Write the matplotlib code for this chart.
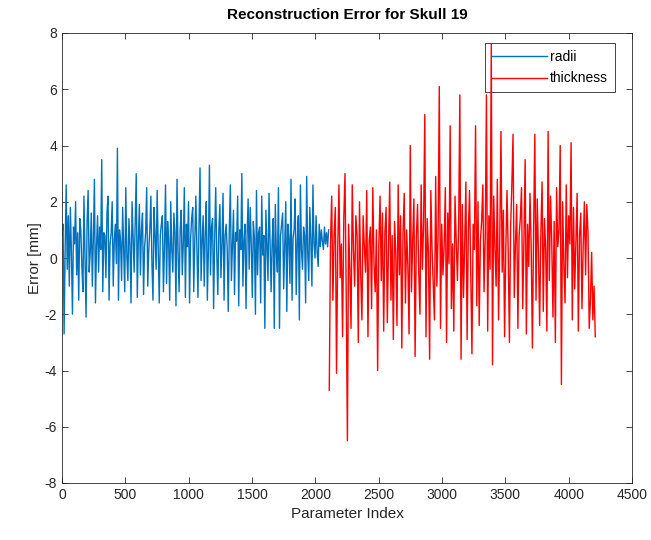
import matplotlib.pyplot as plt
import numpy as np

plt.rcParams['font.family'] = ['Liberation Sans', 'DejaVu Sans']
plt.rcParams['axes.unicode_minus'] = False

# radii error, index 0 .. ~2105
radii = [
    0.8, 1.2, -2.7, 0.3, 2.6, -0.4, 1.5, -1.0, 1.8, 0.2, -2.0, 1.1, 0.5, 2.0, -0.6, 0.9,
    -1.5, 1.4, 1.0, -0.3, -1.2, 2.2, 0.1, -2.1, 1.3, 2.4, -0.5, 0.2, 1.6, -1.0, 0.7, 2.8,
    -1.6, 0.4, 1.5, -0.5, 1.1, 0.3, 3.5, -1.2, 0.9, 0.8, -0.7, 1.6, 2.2, -1.5, 0.5, 0.9,
    2.0, -1.0, 0.6, 1.2, -0.2, 3.9, -1.5, 1.0, 0.6, -0.8, 1.8, 0.3, -1.2, 2.5, 0.1, -0.8,
    1.4, 0.5, -1.6, 2.0, 0.7, -0.5, 1.2, 3.0, -1.4, 0.6, 1.9, -0.6, 1.0, 1.6, -1.3, 0.4,
    0.9, 2.5, -1.0, 0.3, 1.0, 2.2, -0.2, -1.5, 1.8, 0.8, -0.4, 2.4, 0.5, -1.6, 0.8, 1.2,
    1.5, -1.2, 0.4, 2.6, -0.9, 1.3, 0.6, -1.5, 2.0, 0.3, -0.5, 1.6, 0.9, -1.7, 2.8, 0.2,
    -1.2, 1.0, 1.7, -0.6, 0.5, 2.5, -1.4, 1.2, 0.4, 2.0, -1.6, 0.7, 1.4, 1.8, -1.2, 0.6,
    2.2, 0.4, -1.4, 1.1, 3.2, -0.8, 0.6, 1.5, -1.0, 0.9, 2.0, -1.5, 0.3, 3.3, -0.6, 1.1,
    1.4, -1.8, 0.7, 2.5, 0.2, -1.3, 1.0, 1.9, -0.7, 0.5, 2.3, -1.5, 0.8, 1.2, 0.3, -1.9,
    1.0, 2.6, -0.8, 0.4, 1.7, -1.3, 0.9, 0.6, 2.2, -1.7, 1.0, 0.3, 3.0, -1.0, 0.6, 1.2,
    -1.8, 0.8, 2.1, -0.4, 1.8, 0.5, -1.4, 1.3, 0.7, -2.0, 2.4, -0.6, 0.9, 1.1, -1.6, 2.2,
    0.1, 0.8, -2.5, 1.7, 0.4, -0.8, 2.3, 0.6, -1.2, 0.6, 1.4, -2.5, 1.9, 0.2, -0.5, 2.5,
    -2.5, 0.8, 1.2, 1.6, -1.1, 0.5, 2.0, -1.9, 1.2, 0.7, -0.9, 2.8, -1.5, 0.7, 1.0, 2.1,
    -1.3, 0.6, 1.5, -2.2, 2.6, 0.3, -0.4, 1.1, 0.8, -1.6, 2.9, 0.2, -0.8, 1.8, 0.6, -1.0,
    2.6, 0.5, 0.0, 1.5, 0.2, -0.3, 1.2, 0.4, 1.0, 0.6, 0.3, 1.1, 0.5, 0.9, 0.4, 1.0,
]
radii_start, radii_end = 0, 2105

# thickness error, index ~2110 .. 4210
thickness = [
    -4.7, 0.5, 2.2, -1.5, 0.8, 1.8, -4.1, 0.3, 2.6, -0.7, 0.5, -2.8, 1.4, 3.0, -1.2, -6.5,
    1.2, -0.4, -2.5, 2.6, 0.3, -1.0, 1.5, 0.8, -3.0, 2.0, -0.6, -2.2, 1.5, 0.4, -0.5, 2.4,
    -2.8, 0.6, 1.1, -1.8, 2.5, -0.2, -1.2, 1.0, -4.0, 0.5, 2.2, -0.8, 1.6, -2.6, 0.9, 1.8,
    -2.3, 0.4, 2.7, -1.5, 0.8, -2.9, 1.3, 0.2, -2.4, 2.6, -0.6, 1.5, -3.2, 0.9, 2.3, -1.6,
    1.0, -0.3, -2.7, 4.0, -1.2, 0.6, 2.1, -3.5, 0.7, 1.9, -0.5, -2.0, 2.6, -0.4, 1.2, 5.1,
    -2.8, 1.4, 0.2, -3.6, 2.4, 0.3, -1.0, -2.2, 2.9, -1.0, 0.8, 6.1, -2.5, 1.2, -0.6, 0.4,
    2.5, -3.0, 1.6, -0.2, 4.7, -1.8, 0.5, -2.6, 2.2, 0.6, -0.8, 1.1, 5.8, -3.6, 1.9, -1.4,
    0.5, 2.7, -2.9, 0.9, 2.4, -0.5, -3.4, 1.2, 0.3, 4.7, -1.7, 2.0, -2.4, 0.6, 1.3, 2.6,
    -1.2, 0.7, 5.8, -2.6, 1.5, -0.4, 7.6, -3.8, 2.2, 0.4, -1.0, 2.8, -2.2, 0.6, 4.5, -0.5,
    1.7, -2.8, 0.3, 2.4, 0.2, -3.0, 1.1, 2.6, 4.4, -1.4, 0.5, 1.9, -2.5, 0.8, 1.4, 2.5,
    -1.8, 0.6, 3.5, -2.7, 1.2, -0.3, 2.3, 0.4, -3.2, 1.0, 4.4, -1.5, 2.1, 0.2, -2.4, 0.9,
    2.7, -1.9, 1.4, 0.3, -2.6, 4.5, -0.8, 2.2, 0.6, -2.1, 1.3, -3.0, 2.5, 0.4, 1.0, 4.0,
    -4.5, 2.0, -0.2, -1.6, 2.6, -0.7, 1.5, 0.5, 4.1, -2.2, 1.8, -1.1, 0.6, 2.3, -2.6, 0.8,
    1.6, -1.8, 0.4, 2.0, -0.6, 1.9, 0.9, -2.5, -1.5, 0.2, -2.2, -1.0, -2.8,
]
thick_start, thick_end = 2110, 4210

x_ticks = list(range(0, 4501, 500))
y_ticks = list(range(-8, 9, 2))

# parameter index of each sample
x_radii = np.linspace(radii_start, radii_end, len(radii))
x_thick = np.linspace(thick_start, thick_end, len(thickness))

fig = plt.figure(figsize=(6.51, 5.4), dpi=100)
ax = fig.add_axes([62 / 651, 57 / 540, 570 / 651, 450 / 540])

ax.plot(x_radii, radii, color='#0072BD', lw=1.0, label='radii')
# red trace sits above the legend box, like the original (tall peak runs through it)
ax.plot(x_thick, thickness, color='#FF0000', lw=1.0, label='thickness', zorder=6)

ax.set_xlim(0, 4500)
ax.set_ylim(-8, 8)
ax.set_xticks(x_ticks)
ax.set_yticks(y_ticks)
ax.tick_params(direction='in', top=True, right=True, length=4,
               labelsize=10, colors='#262626', width=0.6)
for s in ax.spines.values():
    s.set_color('#262626')
    s.set_linewidth(0.6)

ax.set_title('Reconstruction Error for Skull 19', fontsize=11,
             fontweight='bold', pad=10)
ax.set_xlabel('Parameter Index', fontsize=11, color='#262626')
ax.set_ylabel('Error [mm]', fontsize=11, color='#262626', labelpad=2)

leg = ax.legend(loc='upper right', bbox_to_anchor=(0.970, 0.978),
                fontsize=10, fancybox=False, framealpha=1,
                edgecolor='#262626', handlelength=4.0, borderaxespad=0,
                handletextpad=0.2, borderpad=0.5, labelspacing=0.55)
leg.set_zorder(5)
leg.get_frame().set_linewidth(0.6)
for line in leg.get_lines():
    line.set_linewidth(1.0)

fig.savefig('out.png', dpi=100)
